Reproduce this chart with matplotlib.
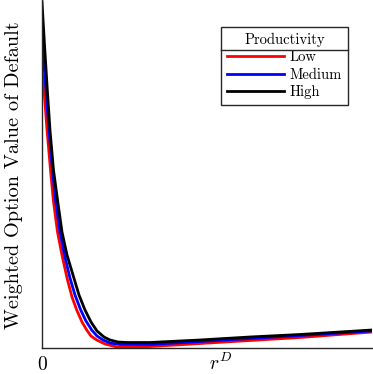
import matplotlib
matplotlib.use("Agg")
import matplotlib.pyplot as plt
from matplotlib.lines import Line2D

plt.rcParams["font.family"] = ["cmr10", "DejaVu Serif"]
plt.rcParams["mathtext.fontset"] = "cm"
plt.rcParams["axes.formatter.use_mathtext"] = True

# r^D (normalised) and weighted option value of default
x_low = [0.0, 0.0030, 0.0061, 0.0152, 0.0258, 0.0342, 0.0470, 0.0606, 0.0758, 0.0909,
         0.1052, 0.1212, 0.1355, 0.1485, 0.1658, 0.1909, 0.2273, 0.2818, 0.3273,
         0.4788, 0.6303, 0.7818, 1.0]
y_low = [0.7931, 0.7701, 0.7414, 0.6264, 0.5115, 0.4253, 0.3333, 0.2672, 0.2011, 0.1466,
         0.1092, 0.0747, 0.0517, 0.0345, 0.0230, 0.0115, 0.0029, 0.0029, 0.0043,
         0.0129, 0.0216, 0.0302, 0.0460]

x_med = [0.0, 0.0061, 0.0121, 0.0212, 0.0318, 0.0409, 0.0545, 0.0682, 0.0848, 0.1,
         0.1173, 0.1333, 0.1506, 0.1667, 0.1848, 0.2061, 0.2364, 0.3273,
         0.4788, 0.6303, 0.7818, 1.0]
y_med = [0.8908, 0.8132, 0.7414, 0.6264, 0.5115, 0.4253, 0.3333, 0.2672, 0.2011, 0.1523,
         0.1092, 0.0776, 0.0517, 0.0345, 0.0230, 0.0144, 0.0101, 0.0101,
         0.0187, 0.0273, 0.0359, 0.0489]

x_high = [0.0, 0.0076, 0.0161, 0.0242, 0.0348, 0.0470, 0.0606, 0.0758, 0.0939, 0.1121,
          0.1303, 0.1485, 0.1667, 0.1879, 0.2061, 0.2303, 0.2576, 0.3273,
          0.4788, 0.6303, 0.7818, 1.0]
y_high = [0.9943, 0.8707, 0.7414, 0.6264, 0.5115, 0.4253, 0.3333, 0.2672, 0.2098, 0.1523,
          0.1092, 0.0747, 0.0489, 0.0316, 0.0230, 0.0172, 0.0158, 0.0158,
          0.0230, 0.0316, 0.0388, 0.0517]

labels = ["Low", "Medium", "High"]
colors = ["#ff0000", "#0000ff", "#000000"]

fig = plt.figure(figsize=(3.73, 3.74), dpi=100)
ax = fig.add_axes([42 / 373, 26 / 374, 330 / 373, 348 / 374])

for xs, ys, lab, col in zip([x_low, x_med, x_high], [y_low, y_med, y_high], labels, colors):
    ax.plot(xs, ys, color=col, lw=2.0, label=lab, solid_joinstyle="round")

ax.set_xlim(0, 1)
ax.set_ylim(0, 1)
ax.spines["top"].set_visible(False)
ax.spines["right"].set_visible(False)
for s in ["left", "bottom"]:
    ax.spines[s].set_linewidth(1.0)
    ax.spines[s].set_color("#262626")
ax.set_xticks([0])
ax.set_xticklabels(["0"])
ax.set_yticks([])
ax.tick_params(axis="x", length=0, labelsize=14, pad=6)

ax.set_xlabel(r"$r^D$", fontsize=14)
ax.xaxis.set_label_coords(0.54, -0.015, transform=ax.transAxes)
ax.xaxis.label.set_va("top")
ax.set_ylabel("Weighted Option Value of Default", fontsize=14.6)
ax.yaxis.set_label_coords(-0.085, 0.497)
ax.yaxis.label.set_va("center")

leg = ax.legend(title="Productivity", loc="upper right",
                bbox_to_anchor=(348 / 373, 1 - 27 / 374), bbox_transform=fig.transFigure,
                fontsize=10.5, title_fontsize=10.5, handlelength=3.9, handletextpad=0.4,
                labelspacing=0.25, borderpad=0.4, fancybox=False, framealpha=1,
                edgecolor="#262626", borderaxespad=0)
leg.get_frame().set_linewidth(1.0)

# separator line under the legend title
fig.canvas.draw()
lb = leg.get_window_extent()
tb = leg.get_title().get_window_extent()
inv = fig.transFigure.inverted()
y_sep = tb.y0 - 3
(x0, ys0), (x1, _) = inv.transform([(lb.x0, y_sep), (lb.x1, y_sep)])
fig.add_artist(Line2D([x0, x1], [ys0, ys0], transform=fig.transFigure,
                      color="#262626", lw=1.0))

fig.savefig("out.png", dpi=100)
